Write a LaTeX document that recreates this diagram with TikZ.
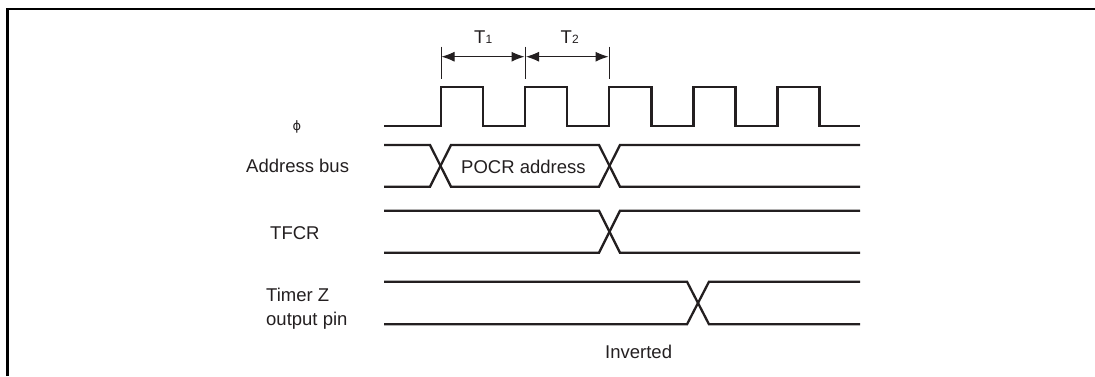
\documentclass[tikz,border=0pt]{standalone}
\usepackage{fontspec}
\setmainfont{Liberation Sans}
\usetikzlibrary{arrows.meta}
\definecolor{ink}{HTML}{231F20}
\tikzset{
  px/.style={x=1pt,y=-1pt},
  sig/.style={draw=ink,line width=2.3pt,line join=miter},
  thin/.style={draw=ink,line width=1pt},
  dim/.style={draw=ink,line width=1pt,{Latex[length=13pt,width=10pt]}-{Latex[length=13pt,width=10pt]}},
  frame/.style={draw=black,line width=2.4pt},
  lbl/.style={font=\fontsize{18.5pt}{23.5pt}\selectfont,text=ink,inner sep=0pt},
  lblL/.style={lbl,align=left}
}
\newcommand{\subfig}[1]{{\fontsize{12pt}{14pt}\selectfont #1}}
\begin{document}
\begin{tikzpicture}[px]
\useasboundingbox (0,0) rectangle (1095,376);
\draw[frame] (7.5,376) -- (7.5,9) -- (1095,9);
% clock
\draw[sig] (384,125.7) -- (441.3,125.7) -- (441.3,87.3) -- (483.3,87.3) -- (483.3,125.7) -- (525.3,125.7) -- (525.3,87.3) -- (567.3,87.3) -- (567.3,125.7) -- (609.3,125.7) -- (609.3,87.3) -- (651.5,87.3) -- (651.5,125.7) -- (693.5,125.7) -- (693.5,87.3) -- (735.5,87.3) -- (735.5,125.7) -- (777.5,125.7) -- (777.5,87.3) -- (819.5,87.3) -- (819.5,125.7) -- (860,125.7);
% T1 T2 dimension
\coordinate (e1) at (441,46.5);
\coordinate (e2) at (525,46.5);
\coordinate (e3) at (609,46.5);
\coordinate (f1) at (441,79);
\coordinate (f2) at (525,79);
\coordinate (f3) at (609,79);
\coordinate (a1) at (441.5,56.7);
\coordinate (a2) at (524.5,56.7);
\coordinate (a3) at (526,56.7);
\coordinate (a4) at (608.5,56.7);
\draw[thin] (e1) -- (f1);
\draw[thin] (e2) -- (f2);
\draw[thin] (e3) -- (f3);
\draw[dim] (a1) -- (a2);
\draw[dim] (a3) -- (a4);
\node[lbl,anchor=base west] (t1) at (474,43) {T\subfig{1}};
\node[lbl,anchor=base west] (t2) at (560.5,43) {T\subfig{2}};
% address bus
\draw[sig] (384,145) -- (430,145) -- (451,186.7) -- (599,186.7) -- (620,145) -- (860,145);
\draw[sig] (384,186.7) -- (430,186.7) -- (451,145) -- (599,145) -- (620,186.7) -- (860,186.7);
\node[lbl,anchor=base west] (pocr) at (461,173) {POCR address};
% TFCR
\draw[sig] (384,210.7) -- (599,210.7) -- (620,252.7) -- (860,252.7);
\draw[sig] (384,252.7) -- (599,252.7) -- (620,210.7) -- (860,210.7);
% Timer Z
\draw[sig] (384,281.7) -- (687,281.7) -- (709,324.3) -- (860,324.3);
\draw[sig] (384,324.3) -- (687,324.3) -- (709,281.7) -- (860,281.7);
% labels
\node[lbl] (phi) at (297,127) {\fontspec{DejaVu Sans}\fontsize{13pt}{14pt}\selectfont ϕ};
\node[lbl,anchor=base west] (addr) at (246,172) {Address bus};
\node[lbl,anchor=base west] (tfcr) at (270,239.5) {TFCR};
\node[lbl,lblL,anchor=base west] (tz) at (266,325) {Timer Z\\output pin};
\node[lbl,anchor=base west] (inv) at (605,358.5) {Inverted};
\end{tikzpicture}
\end{document}
